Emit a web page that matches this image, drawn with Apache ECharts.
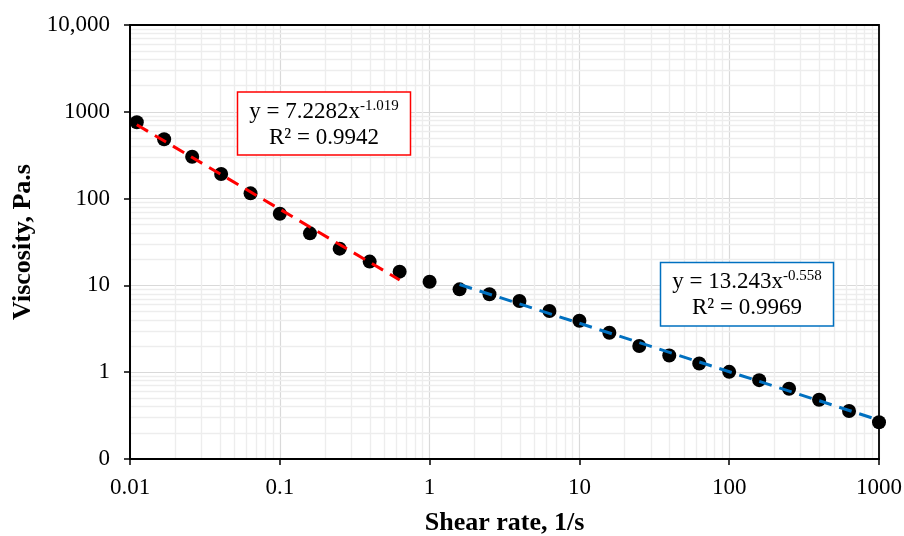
<!DOCTYPE html>
<html>
<head>
<meta charset="utf-8">
<script src="https://cdn.jsdelivr.net/npm/echarts@6/dist/echarts.min.js"></script>
<style>
  html, body { margin: 0; padding: 0; background: #fff; }
  #chart { width: 904px; height: 536px; }
</style>
</head>
<body>
<div id="chart"></div>
<script>
// measured points (shear rate 1/s, viscosity Pa.s)
const shearRate = [0.0111, 0.0169, 0.026, 0.0406, 0.0638, 0.1, 0.159, 0.251, 0.398, 0.631,
  1, 1.585, 2.51, 3.98, 6.31, 10, 15.85, 25.1, 39.8, 63.1, 100, 158.5, 251, 398, 631, 1000];
const viscosity = [757, 482, 304, 192, 115, 67, 39.8, 26.5, 18.8, 14.4,
  11.0, 9.0, 7.9, 6.6, 5.07, 3.92, 2.85, 2.0, 1.56, 1.26, 1.01, 0.81, 0.645, 0.482, 0.357, 0.265];

// power-law fits shown on the chart
const redFit = { k: 7.2282, n: -1.019, from: 0.0111, to: 0.631 };
const blueFit = { k: 13.243, n: -0.558, from: 1.585, to: 1000 };

const xTicks = [0.01, 0.1, 1, 10, 100, 1000];
const yTicks = [0.1, 1, 10, 100, 1000, 10000];

const serif = '"Liberation Serif", "Times New Roman", serif';

function fitLine(f) {
  return [[f.from, f.k * Math.pow(f.from, f.n)], [f.to, f.k * Math.pow(f.to, f.n)]];
}

// minor grid at 2..9 of each decade
function minorVals(ticks) {
  let out = [];
  for (let i = 0; i < ticks.length - 1; i++) {
    for (let m = 2; m <= 9; m++) out.push(ticks[i] * m);
  }
  return out;
}
let minorLines = minorVals(xTicks).map(v => ({ xAxis: v }))
  .concat(minorVals(yTicks).map(v => ({ yAxis: v })));

let boxText = {
  a: { fontFamily: serif, fontSize: 23, lineHeight: 26, fill: '#000' },
  s: { fontFamily: serif, fontSize: 15, lineHeight: 26, fill: '#000', verticalAlign: 'top', padding: [0, 0, 0, 0] }
};

let chart = echarts.init(document.getElementById('chart'));
let option = {
  animation: false,
  grid: {
    left: 130, top: 25, right: 25, bottom: 77, z: 2,
    containLabel: false, outerBoundsMode: 'none',
    show: true, borderColor: '#000', borderWidth: 1.8, backgroundColor: 'transparent'
  },
  xAxis: {
    type: 'log', logBase: 10, min: 0.01, max: 1000,
    name: 'Shear rate, 1/s', nameLocation: 'middle', nameGap: 51,
    nameTextStyle: { fontFamily: serif, fontSize: 26, fontWeight: 'bold', color: '#000' },
    axisLine: { lineStyle: { color: '#000', width: 1.8 } },
    axisTick: { show: true, length: 6, lineStyle: { color: '#000', width: 1.5 } },
    axisLabel: {
      fontFamily: serif, fontSize: 23, color: '#000', margin: 17,
      formatter: v => String(parseFloat(v.toPrecision(3)))
    },
    splitLine: { show: true, lineStyle: { color: '#d9d9d9', width: 1.2 } },
    minorTick: { show: false }
  },
  yAxis: {
    type: 'log', logBase: 10, min: 0.1, max: 10000,
    name: 'Viscosity, Pa.s', nameLocation: 'middle', nameGap: 93,
    nameTextStyle: { fontFamily: serif, fontSize: 26, fontWeight: 'bold', color: '#000' },
    axisLine: { lineStyle: { color: '#000', width: 1.8 } },
    axisTick: { show: true, length: 6, lineStyle: { color: '#000', width: 1.5 } },
    axisLabel: {
      fontFamily: serif, fontSize: 23, color: '#000', margin: 20,
      formatter: function (v) {
        let n = parseFloat(v.toPrecision(3));
        if (n < 1) return '0';
        if (n >= 10000) return n.toLocaleString('en-US');
        return String(n);
      }
    },
    splitLine: { show: true, lineStyle: { color: '#d9d9d9', width: 1.2 } }
  },
  series: [
    {
      type: 'line', data: [], z: 0, silent: true,
      markLine: {
        z: 0, silent: true, symbol: ['none', 'none'], label: { show: false },
        lineStyle: { color: '#ededed', width: 1.4, type: 'solid' },
        emphasis: { disabled: true },
        data: minorLines
      }
    },
    {
      type: 'scatter', z: 3,
      data: shearRate.map((x, i) => [x, viscosity[i]]),
      symbol: 'circle', symbolSize: 14,
      itemStyle: { color: '#000', opacity: 1 }
    },
    {
      type: 'line', z: 4, data: fitLine(redFit), symbol: 'none',
      lineStyle: { color: '#ff0000', width: 3, type: [13, 8] }
    },
    {
      type: 'line', z: 4, data: fitLine(blueFit), symbol: 'none',
      lineStyle: { color: '#0070c0', width: 3, type: [13, 8] }
    }
  ],
  graphic: [
    {
      type: 'rect', z: 10,
      shape: { x: 237.5, y: 92, width: 173, height: 63 },
      style: { fill: '#fff', stroke: '#ff0000', lineWidth: 1.5 }
    },
    {
      type: 'text', z: 11, x: 324, y: 125,
      style: {
        text: '{a|y = 7.2282x}{s|-1.019}\n{a|R² = 0.9942}',
        align: 'center', verticalAlign: 'middle', rich: boxText
      }
    },
    {
      type: 'rect', z: 10,
      shape: { x: 660.5, y: 262.5, width: 173, height: 63.5 },
      style: { fill: '#fff', stroke: '#0070c0', lineWidth: 1.5 }
    },
    {
      type: 'text', z: 11, x: 747, y: 295,
      style: {
        text: '{a|y = 13.243x}{s|-0.558}\n{a|R² = 0.9969}',
        align: 'center', verticalAlign: 'middle', rich: boxText
      }
    }
  ]
};
chart.setOption(option);
</script>
</body>
</html>
